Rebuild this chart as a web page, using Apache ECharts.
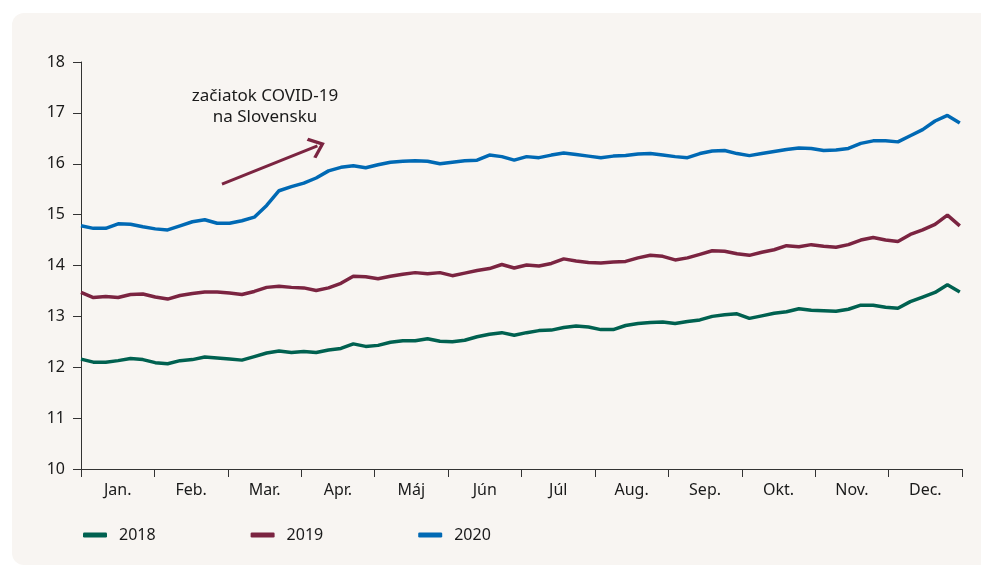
<!DOCTYPE html>
<html>
<head>
<meta charset="utf-8">
<script src="https://cdn.jsdelivr.net/npm/echarts@6/dist/echarts.min.js"></script>
<style>
  html, body { margin: 0; padding: 0; background: #fff; }
  #wrap { position: absolute; left: 12px; top: 13px; width: 990px; height: 552px; background: #f8f5f2; border-radius: 12px; }
  #chart { position: absolute; left: 0; top: 0; width: 981px; height: 566px; }
</style>
</head>
<body>
<div id="wrap"></div>
<div id="chart"></div>
<script>
// month labels on the x axis
const months = ["Jan.", "Feb.", "Mar.", "Apr.", "Máj", "Jún", "Júl", "Aug.", "Sep.", "Okt.", "Nov.", "Dec."];

// values sampled about every 5 days through the year
const y2018 = [12.16, 12.10, 12.10, 12.13, 12.17, 12.15, 12.09, 12.07, 12.13, 12.15, 12.20, 12.18,
  12.16, 12.14, 12.21, 12.28, 12.32, 12.29, 12.31, 12.29, 12.34, 12.37, 12.46, 12.41,
  12.43, 12.49, 12.52, 12.52, 12.56, 12.51, 12.50, 12.53, 12.60, 12.65, 12.68, 12.63,
  12.68, 12.72, 12.73, 12.78, 12.81, 12.79, 12.74, 12.74, 12.82, 12.86, 12.88, 12.89,
  12.86, 12.90, 12.93, 13.00, 13.03, 13.05, 12.96, 13.01, 13.06, 13.09, 13.15, 13.12,
  13.11, 13.10, 13.14, 13.22, 13.22, 13.18, 13.16, 13.29, 13.38, 13.47, 13.62, 13.48];

const y2019 = [13.47, 13.37, 13.39, 13.37, 13.43, 13.44, 13.38, 13.34, 13.41, 13.45, 13.48, 13.48,
  13.46, 13.43, 13.49, 13.57, 13.59, 13.57, 13.56, 13.51, 13.56, 13.65, 13.79, 13.78,
  13.74, 13.79, 13.83, 13.86, 13.84, 13.86, 13.80, 13.85, 13.90, 13.94, 14.02, 13.95,
  14.01, 13.99, 14.04, 14.13, 14.09, 14.06, 14.05, 14.07, 14.08, 14.15, 14.20, 14.18,
  14.11, 14.15, 14.22, 14.29, 14.28, 14.23, 14.20, 14.26, 14.31, 14.39, 14.37, 14.41,
  14.38, 14.36, 14.41, 14.50, 14.55, 14.50, 14.47, 14.61, 14.70, 14.81, 14.99, 14.78];

const y2020 = [14.78, 14.73, 14.73, 14.82, 14.81, 14.76, 14.72, 14.70, 14.78, 14.86, 14.90, 14.83,
  14.83, 14.88, 14.95, 15.18, 15.47, 15.55, 15.62, 15.72, 15.86, 15.93, 15.96, 15.92,
  15.98, 16.03, 16.05, 16.06, 16.05, 16.00, 16.03, 16.06, 16.07, 16.17, 16.14, 16.07,
  16.14, 16.12, 16.17, 16.21, 16.18, 16.15, 16.12, 16.15, 16.16, 16.19, 16.20, 16.17,
  16.14, 16.12, 16.20, 16.25, 16.26, 16.20, 16.16, 16.20, 16.24, 16.28, 16.31, 16.30,
  16.26, 16.27, 16.30, 16.40, 16.45, 16.45, 16.43, 16.55, 16.67, 16.84, 16.95, 16.80];

const yTicks = [10, 11, 12, 13, 14, 15, 16, 17, 18];

// position of each sample in months (0 = start of Jan, 12 = end of Dec)
function toPairs(vals) {
  return vals.map(function (v, i) { return [i * 11.97 / (vals.length - 1), v]; });
}

const font = "'Noto Sans', Lato, sans-serif";
const mychart = echarts.init(document.getElementById("chart"));
mychart.setOption({
  backgroundColor: "transparent",
  animation: false,
  textStyle: { fontFamily: font },
  grid: { left: 81, right: 19, top: 62, bottom: 97 },
  legend: {
    left: 78,
    top: 522,
    itemWidth: 24,
    itemHeight: 5,
    itemGap: 95,
    icon: "roundRect",
    textStyle: { fontSize: 16, color: "#1a1a1a", fontFamily: font, padding: [0, 0, 0, 7] },
    data: ["2018", "2019", "2020"]
  },
  xAxis: [
    {
      type: "category",
      data: months,
      boundaryGap: true,
      axisLine: { lineStyle: { color: "#333", width: 1 } },
      axisTick: { show: true, interval: 0, length: 8, lineStyle: { color: "#333" } },
      axisLabel: { interval: 0, fontSize: 16, color: "#1a1a1a", margin: 13, fontFamily: font },
      splitLine: { show: false }
    },
    {
      type: "value",
      min: 0,
      max: 12,
      show: false,
      splitLine: { show: false }
    }
  ],
  yAxis: {
    type: "value",
    min: yTicks[0],
    max: yTicks[yTicks.length - 1],
    interval: 1,
    axisLine: { show: true, lineStyle: { color: "#333", width: 1 } },
    axisTick: { show: true, length: 8, lineStyle: { color: "#333" } },
    axisLabel: { fontSize: 16, color: "#1a1a1a", margin: 16, fontFamily: font },
    splitLine: { show: false }
  },
  series: [
    {
      name: "2018", type: "line", xAxisIndex: 1, data: toPairs(y2018),
      showSymbol: false, color: "#006150", lineStyle: { width: 3.5 }
    },
    {
      name: "2019", type: "line", xAxisIndex: 1, data: toPairs(y2019),
      showSymbol: false, color: "#7b2441", lineStyle: { width: 3.5 }
    },
    {
      name: "2020", type: "line", xAxisIndex: 1, data: toPairs(y2020),
      showSymbol: false, color: "#0069b4", lineStyle: { width: 3.5 },
      markLine: {
        silent: true,
        symbol: ["none", "path://M0,0 L13,13 L10.5,15.5 L0,5 L-10.5,15.5 L-13,13 Z"],
        symbolSize: [22, 16],
        label: { show: false },
        lineStyle: { color: "#7b2441", width: 3, type: "solid" },
        data: [[{ coord: [1.92, 15.6] }, { coord: [3.22, 16.35] }]]
      }
    }
  ],
  graphic: [
    {
      type: "text",
      x: 265,
      y: 86,
      style: {
        text: "začiatok COVID-19\nna Slovensku",
        textAlign: "center",
        font: "17px " + font,
        lineHeight: 21,
        fill: "#1a1a1a"
      }
    }
  ]
});
window.addEventListener("resize", function () {
  mychart.resize();
});
</script>
</body>
</html>
